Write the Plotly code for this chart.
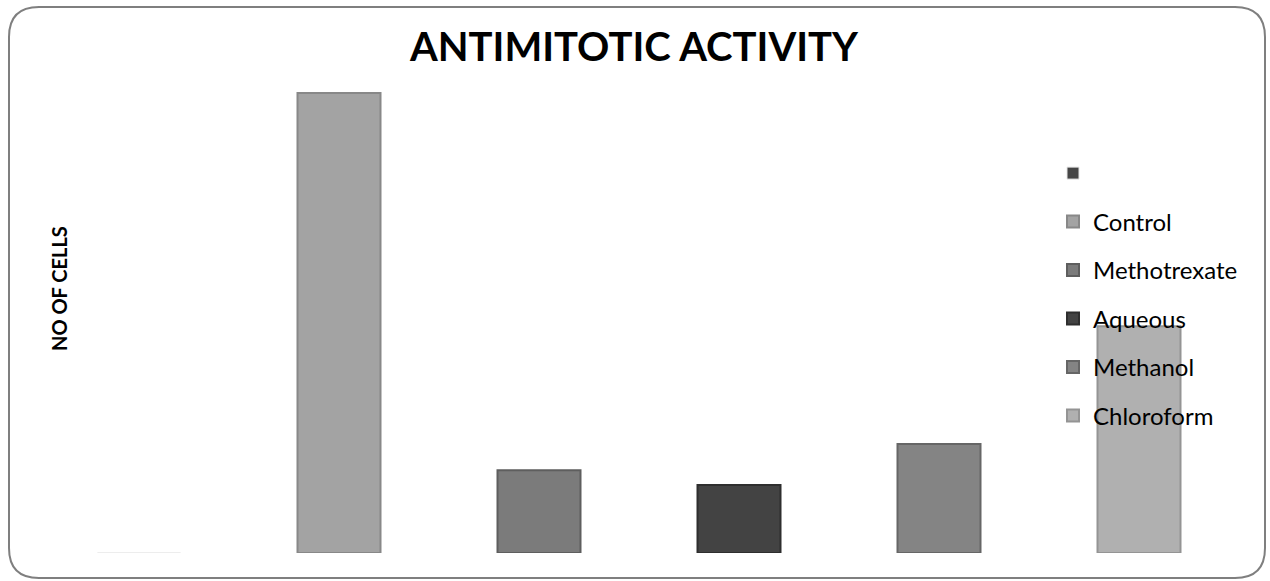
import plotly.graph_objects as go

categories = [" ", "Control", "Methotrexate", "Aqueous", "Methanol", "Chloroform"]
values = [0, 100, 18, 14.8, 23.7, 49.3]
colors = ["#454545", "#a3a3a3", "#7b7b7b", "#434343", "#848484", "#b0b0b0"]
lines = ["#e6e6e6", "#888888", "#5e5e5e", "#2e2e2e", "#666666", "#949494"]
line_widths = [1, 2, 2, 2, 2, 2]

W, H = 1270, 581
L, R, T, B = 39, 31, 70, 28
pw, ph = W - L - R, H - T - B

def px(x):
    return (x - L) / pw

def py(y):
    return (H - B - y) / ph

fig = go.Figure()
for i, (c, v) in enumerate(zip(categories, values)):
    fig.add_trace(go.Bar(
        x=[i], y=[v], name=c, width=0.415,
        marker=dict(color=colors[i], line=dict(color=lines[i], width=line_widths[i])),
        legendgroup="g%d" % i,
    ))

# rounded border
x0, x1, y0, y1, r = 9, 1265, 7, 578, 30
path = (
    f"M {px(x0 + r)} {py(y0)} L {px(x1 - r)} {py(y0)} "
    f"Q {px(x1)} {py(y0)} {px(x1)} {py(y0 + r)} "
    f"L {px(x1)} {py(y1 - r)} Q {px(x1)} {py(y1)} {px(x1 - r)} {py(y1)} "
    f"L {px(x0 + r)} {py(y1)} Q {px(x0)} {py(y1)} {px(x0)} {py(y1 - r)} "
    f"L {px(x0)} {py(y0 + r)} Q {px(x0)} {py(y0)} {px(x0 + r)} {py(y0)} Z"
)
fig.add_shape(type="path", path=path, xref="paper", yref="paper",
              line=dict(color="#7f7f7f", width=2), layer="above")

fig.update_layout(
    width=W, height=H,
    margin=dict(l=L, r=R, t=T, b=B),
    paper_bgcolor="white", plot_bgcolor="white",
    barmode="overlay",
    title=dict(text="<b>ANTIMITOTIC ACTIVITY</b>", x=px(638), xanchor="center",
               y=1 - 47 / H, yanchor="middle",
               font=dict(family="Lato", size=40, color="black")),
    xaxis=dict(range=[-0.5, 5.5], showticklabels=False, showgrid=False,
               zeroline=False, showline=False, ticks=""),
    yaxis=dict(range=[0, 100 * ph / 460], showticklabels=False, showgrid=False,
               zeroline=False, showline=False, ticks=""),
    legend=dict(x=px(1053), xanchor="left", y=py(151), yanchor="top",
                font=dict(family="Lato", size=24, color="black"),
                bgcolor="rgba(0,0,0,0)", tracegroupgap=14.3),
    showlegend=True,
    annotations=[dict(text="<b>NO OF CELLS</b>", x=px(59), y=py(289),
                      xref="paper", yref="paper", textangle=-90, showarrow=False,
                      xanchor="center", yanchor="middle",
                      font=dict(family="Lato", size=20, color="black"))],
)

fig.write_html("out.html", config={"displayModeBar": False},
               post_script="document.body.style.margin='0';document.body.style.padding='0';")
